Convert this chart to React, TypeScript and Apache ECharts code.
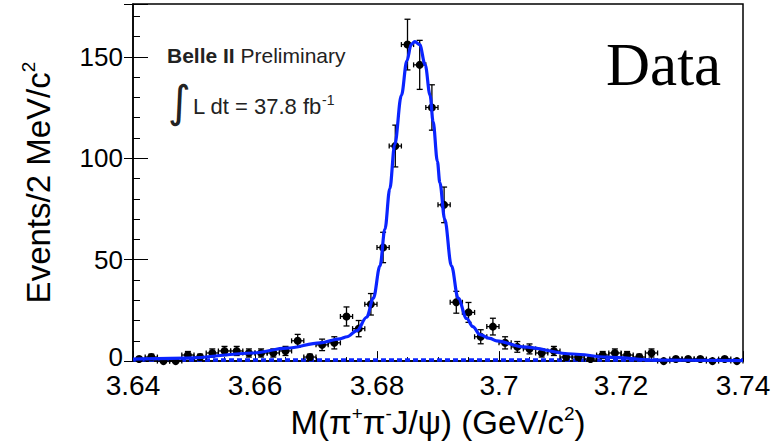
import React, { useEffect, useRef } from "react";
import * as echarts from "echarts";

// ---- data ----
const binCenters = [
  3.641, 3.643, 3.645, 3.647, 3.649, 3.651, 3.653, 3.655, 3.657, 3.659,
  3.661, 3.663, 3.665, 3.667, 3.669, 3.671, 3.673, 3.675, 3.677, 3.679,
  3.681, 3.683, 3.685, 3.687, 3.689, 3.691, 3.693, 3.695, 3.697, 3.699,
  3.701, 3.703, 3.705, 3.707, 3.709, 3.711, 3.713, 3.715, 3.717, 3.719,
  3.721, 3.723, 3.725, 3.727, 3.729, 3.731, 3.733, 3.735, 3.737, 3.739,
];
const counts = [
  1, 2, 0, 0, 3, 2, 4, 5, 5, 4,
  4, 4, 5, 10, 2, 8, 9, 22, 16, 28,
  56, 106, 156, 146, 125, 77, 29, 24, 12, 17,
  9, 7, 6, 4, 5, 2, 2, 1, 3, 4,
  3, 2, 4, 0, 1, 1, 1, 0, 1, 0,
];
const binHalfWidth = 0.001;

const fitX = [
  3.64, 3.6489, 3.6597, 3.6652, 3.6707, 3.6739, 3.6751, 3.6767, 3.6783, 3.6794,
  3.6805, 3.6813, 3.6821, 3.6829, 3.684, 3.6849, 3.6856, 3.6862, 3.687, 3.6879,
  3.6887, 3.6892, 3.6899, 3.6903, 3.6911, 3.6922, 3.6933, 3.6947, 3.6957, 3.6969,
  3.6985, 3.6996, 3.7039, 3.7121, 3.7177, 3.7259, 3.74,
];
const fitY = [
  1.0, 1.5, 4.0, 6.4, 9.0, 11.0, 12.0, 15.0, 21.6, 31.0,
  47.0, 65.0, 85.0, 106.6, 131.0, 148.0, 156.0, 157.5, 156.0, 146.0,
  131.0, 118.0, 98.5, 88.0, 70.0, 47.0, 31.0, 21.0, 17.0, 13.0,
  11.2, 10.0, 7.0, 3.5, 2.0, 0.5, 0.2,
];

const bkgX = [3.64, 3.74];
const bkgY = [0.5, 0.5];

const xTickValues = [3.64, 3.66, 3.68, 3.7, 3.72, 3.74];
const xTickLabels = ["3.64", "3.66", "3.68", "3.7", "3.72", "3.74"];

const SANS = "'Liberation Sans', Arial, Helvetica, sans-serif";
const BLUE = "#0a24ff";

export default function App() {
  const ref = useRef<HTMLDivElement>(null);

  useEffect(() => {
    if (!ref.current) return;
    const chart = echarts.init(ref.current, undefined, { renderer: "svg" });

    const pointData = binCenters.map((c, i) => [c, counts[i], Math.sqrt(counts[i])]);
    const fitData = fitX.map((x, i) => [x, fitY[i]]);
    const bkgData = bkgX.map((x, i) => [x, bkgY[i]]);

    const option: any = {
      animation: false,
      backgroundColor: "#fff",
      grid: {
        left: 133,
        right: 39,
        top: 4,
        bottom: 83,
        show: true,
        borderColor: "#000",
        borderWidth: 1.5,
        backgroundColor: "transparent",
      },
      xAxis: {
        type: "value",
        min: 3.64,
        max: 3.74,
        interval: 0.02,
        axisLine: { show: true, onZero: false, lineStyle: { color: "#000", width: 1.5 } },
        axisTick: { show: true, inside: true, length: 10, lineStyle: { color: "#000", width: 1 } },
        minorTick: { show: true, splitNumber: 4, length: 4, lineStyle: { color: "#000", width: 1 } },
        splitLine: { show: false },
        axisLabel: {
          margin: 13,
          fontFamily: SANS,
          fontSize: 28,
          lineHeight: 22,
          color: "#000",
          formatter: (v: number) => {
            const i = xTickValues.findIndex((t) => Math.abs(t - v) < 1e-6);
            return i >= 0 ? xTickLabels[i] : "";
          },
        },
        name: "M(π{sup|+}π{sup|-}J/ψ) (GeV/c{sup|2})",
        nameLocation: "middle",
        nameGap: 42,
        nameTextStyle: {
          fontFamily: SANS,
          fontSize: 33,
          color: "#000",
          lineHeight: 36,
          rich: {
            sup: { fontFamily: SANS, fontSize: 19, lineHeight: 18, verticalAlign: "top", color: "#000" },
          },
        },
      },
      yAxis: [
        {
          type: "value",
          min: 0,
          max: 176,
          interval: 50,
          axisLine: { show: true, lineStyle: { color: "#000", width: 1.5 } },
          axisTick: { show: true, inside: true, length: 15, lineStyle: { color: "#000", width: 1 } },
          minorTick: { show: true, splitNumber: 5, length: 7, lineStyle: { color: "#000", width: 1 } },
          splitLine: { show: false },
          axisLabel: {
            margin: 10,
            fontFamily: SANS,
            fontSize: 26,
            lineHeight: 18,
            color: "#000",
            showMaxLabel: false,
            formatter: (v: number) => (v === 0 ? "{zero|0}" : String(v)),
            rich: {
              zero: { fontFamily: SANS, fontSize: 26, lineHeight: 18, padding: [0, 0, 8, 0], color: "#000" },
            },
          },
          name: "Events/2 MeV/c{sup|2}",
          nameLocation: "middle",
          nameGap: 76,
          nameTextStyle: {
            fontFamily: SANS,
            fontSize: 33,
            color: "#000",
            lineHeight: 38,
            rich: {
              sup: { fontFamily: SANS, fontSize: 19, lineHeight: 19, verticalAlign: "top", color: "#000" },
            },
          },
        },
        {
          type: "value",
          min: 0,
          max: 176,
          interval: 50,
          position: "left",
          axisLine: { show: false },
          axisTick: { show: true, inside: false, length: 9, lineStyle: { color: "#000", width: 1 } },
          axisLabel: { show: false },
          splitLine: { show: false },
        },
      ],
      series: [
        {
          type: "line",
          data: bkgData,
          symbol: "none",
          lineStyle: { color: BLUE, width: 3.5, type: [5, 3] },
          z: 3,
        },
        {
          type: "custom",
          data: pointData,
          z: 4,
          clip: false,
          renderItem: (params: any, api: any) => {
            const x = api.value(0);
            const y = api.value(1);
            const e = api.value(2);
            const c = api.coord([x, y]);
            const xl = api.coord([x - binHalfWidth, y])[0];
            const xr = api.coord([x + binHalfWidth, y])[0];
            const st = { stroke: "#000", lineWidth: 1.3 };
            const children: any[] = [
              { type: "line", shape: { x1: xl, y1: c[1], x2: xr, y2: c[1] }, style: st },
              { type: "line", shape: { x1: xl, y1: c[1] - 2.5, x2: xl, y2: c[1] + 2.5 }, style: st },
              { type: "line", shape: { x1: xr, y1: c[1] - 2.5, x2: xr, y2: c[1] + 2.5 }, style: st },
            ];
            if (e > 0) {
              const yt = api.coord([x, y + e])[1];
              const yb = api.coord([x, y - e])[1];
              children.push(
                { type: "line", shape: { x1: c[0], y1: yt, x2: c[0], y2: yb }, style: st },
                { type: "line", shape: { x1: c[0] - 3, y1: yt, x2: c[0] + 3, y2: yt }, style: st },
                { type: "line", shape: { x1: c[0] - 3, y1: yb, x2: c[0] + 3, y2: yb }, style: st }
              );
            }
            children.push({ type: "circle", shape: { cx: c[0], cy: c[1], r: 4 }, style: { fill: "#000" } });
            return { type: "group", children };
          },
        },
        {
          type: "line",
          data: fitData,
          symbol: "none",
          smooth: 0.35,
          smoothMonotone: "x",
          lineStyle: { color: BLUE, width: 3.2 },
          z: 5,
        },
      ],
      graphic: [
        {
          type: "text",
          x: 167,
          y: 55,
          style: {
            text: "{b|Belle II} Preliminary",
            fontFamily: SANS,
            fontSize: 21,
            fill: "#222",
            verticalAlign: "middle",
            rich: {
              b: { fontFamily: SANS, fontSize: 21, fontWeight: "bold", fill: "#222" },
            },
          },
        },
        {
          type: "text",
          x: 168,
          y: 101,
          style: {
            text: "∫",
            fontFamily: "'DejaVu Sans', sans-serif",
            fontSize: 44,
            fill: "#222",
            verticalAlign: "middle",
          },
        },
        {
          type: "text",
          x: 193,
          y: 106,
          style: {
            text: "L dt = 37.8 fb{sup|-1}",
            fontFamily: SANS,
            fontSize: 22,
            lineHeight: 26,
            fill: "#222",
            verticalAlign: "middle",
            rich: {
              sup: { fontFamily: SANS, fontSize: 14, lineHeight: 14, verticalAlign: "top", fill: "#222" },
            },
          },
        },
        {
          type: "text",
          x: 606,
          y: 64,
          style: {
            text: "Data",
            fontFamily: "'Liberation Serif', 'Times New Roman', serif",
            fontSize: 61,
            fill: "#000",
            verticalAlign: "middle",
          },
        },
      ],
    };

    chart.setOption(option);
    return () => chart.dispose();
  }, []);

  return (
    <div
      ref={ref}
      style={{ position: "absolute", left: 0, top: 0, width: 782, height: 445, background: "#fff" }}
    />
  );
}
